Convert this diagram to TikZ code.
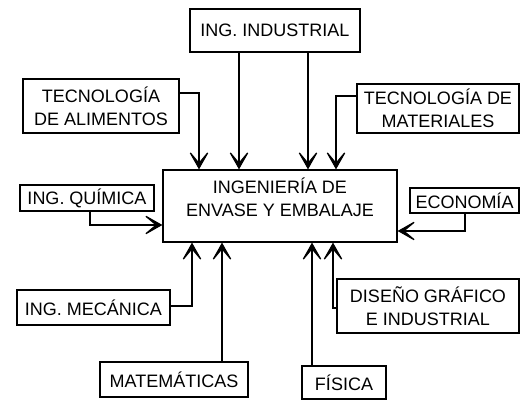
\documentclass[tikz,border=0pt]{standalone}
\usepackage{fontspec}
\setmainfont{Liberation Sans}
\usepackage{tikz}
\usetikzlibrary{arrows.meta}
\usetikzlibrary{positioning}
\tikzstyle{process} = [rectangle, inner sep=0pt, align=center, draw=black, line width=0.6pt, font=\fontsize{9}{11.5}\selectfont]
\tikzstyle{arrow} = [line width=0.6pt, -{Stealth[length=11pt, width=12.5pt, inset=7.5pt]}]

\begin{document}
\begin{tikzpicture}[x=0.5pt, y=-0.5pt]
    \useasboundingbox (0,0) rectangle (520,400);
    \node(indus)[process, minimum width=85pt, minimum height=21.5pt] at (275,30.5) {ING. INDUSTRIAL};
    \node(alim)[process, minimum width=78pt, minimum height=27pt] at (101,106) {TECNOLOGÍA\\DE ALIMENTOS};
    \node(mater)[process, minimum width=81pt, minimum height=24.5pt] at (438,108.5) {TECNOLOGÍA DE\\MATERIALES};
    \node(centro)[process, minimum width=117pt, minimum height=36pt,
      label={[process, draw=none, anchor=north, yshift=-4pt]north:{INGENIERÍA DE\\ENVASE Y EMBALAJE}}] at (280,206) {};
    \node(quim)[process, minimum width=67pt, minimum height=13pt] at (87,198) {ING. QUÍMICA};
    \node(econ)[process, minimum width=54.5pt, minimum height=12.5pt] at (464.5,200.5) {ECONOMÍA};
    \node(mecan)[process, minimum width=76.5pt, minimum height=17.5pt] at (93.5,307.5) {ING. MECÁNICA};
    \node(matem)[process, minimum width=74pt, minimum height=17.5pt] at (174,379.5) {MATEMÁTICAS};
    \node(fisica)[process, minimum width=42pt, minimum height=16.5pt] at (344,382.5) {FÍSICA};
    \node(disen)[process, minimum width=91pt, minimum height=27pt] at (428,306) {DISEÑO GRÁFICO\\E INDUSTRIAL};
    % arriba
    \draw[arrow](alim.east |- 0,93) -| (centro.north -| 199,0);
    \draw[arrow](indus.south -| 239,0) -- (centro.north -| 239,0);
    \draw[arrow](indus.south -| 308,0) -- (centro.north -| 308,0);
    \draw[arrow](mater.west |- 0,96) -| (centro.north -| 336,0);
    % lados
    \draw[arrow](quim.south -| 90,0) |- (centro.west |- 0,225);
    \draw[arrow](econ.south -| 465,0) |- (centro.east |- 0,231);
    % abajo
    \draw[arrow](mecan.east |- 0,306) -| (centro.south -| 192,0);
    \draw[arrow](matem.north -| 222,0) -- (centro.south -| 222,0);
    \draw[arrow](fisica.north -| 312,0) -- (centro.south -| 312,0);
    \draw[arrow](disen.west |- 0,308) -| (centro.south -| 333,0);
  \end{tikzpicture}
\end{document}
